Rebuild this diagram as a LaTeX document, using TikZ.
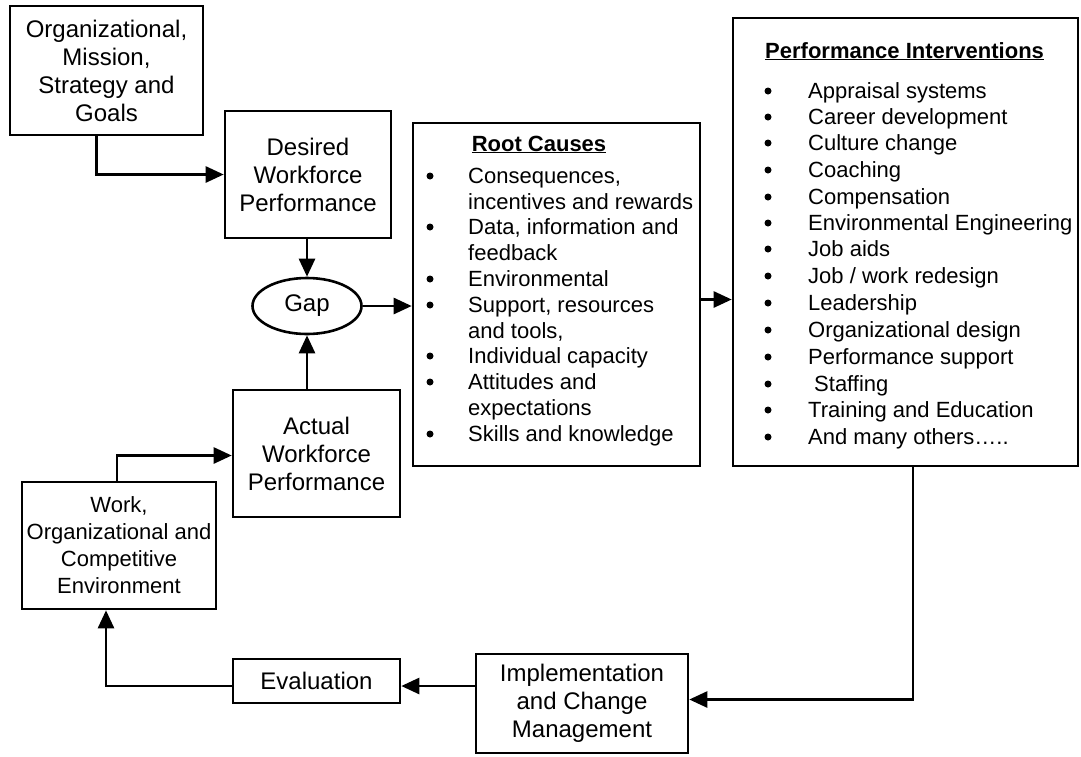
\documentclass[tikz,border=0pt]{standalone}
\usepackage{fontspec}
\setmainfont{Liberation Sans}
\usetikzlibrary{arrows.meta,shapes.geometric}
\begin{document}
\begin{tikzpicture}[x=1pt,y=-1pt,
  box/.style={draw,line width=2.6pt,rectangle,inner sep=0pt,align=center,
    font=\fontsize{24}{28}\selectfont},
  arr/.style={line width=2.6pt,-{Triangle[length=18pt,width=16pt]}},
  item/.style={anchor=base west,inner sep=0pt,font=\fontsize{22}{26}\selectfont},
  bul/.style={circle,fill=black,inner sep=0pt,minimum size=7pt},
  ttl/.style={inner sep=0pt,font=\fontsize{22}{26}\selectfont\bfseries}]
\useasboundingbox (0,0) rectangle (1081,756);

\node[box,minimum width=193pt,minimum height=129pt] (org) at (106.5,70.5)
  {Organizational,\\Mission,\\Strategy and\\Goals};
\node[box,minimum width=166pt,minimum height=127pt] (des) at (308,174.5)
  {Desired\\Workforce\\Performance};
\node[draw,ellipse,line width=2.6pt,minimum width=109pt,minimum height=56pt,inner sep=0pt,
  font=\fontsize{24}{28}\selectfont] (gap) at (307,306) {Gap};
\node[box,minimum width=287pt,minimum height=343pt] (root) at (556.5,294.5) {};
\node[box,minimum width=345pt,minimum height=448pt] (pi) at (905.5,242) {};
\node[box,minimum width=167pt,minimum height=127pt] (act) at (316.5,453.5)
  {Actual\\Workforce\\Performance};
\node[box,minimum width=194pt,minimum height=127pt,font=\fontsize{22}{27}\selectfont] (work) at (119,545.5)
  {Work,\\Organizational and\\Competitive\\Environment};
\node[box,minimum width=167pt,minimum height=44pt] (eval) at (316.5,681) {Evaluation};
\node[box,minimum width=212pt,minimum height=99pt] (impl) at (582,703.5)
  {Implementation\\and Change\\Management};

% Root causes list
\node[ttl,anchor=base] (rct) at (539,151) {\underline{Root Causes}};
\foreach \y/\b/\t [count=\i] in {
  175/1/{Consequences,},
  201/0/{incentives and rewards},
  226/1/{Data, information and},
  252/0/{feedback},
  278/1/{Environmental},
  304/1/{Support, resources},
  330/0/{and tools,},
  355/1/{Individual capacity},
  381/1/{Attitudes and},
  407/0/{expectations},
  433/1/{Skills and knowledge}} {
  \node[item] (rc\i) at (468,\y+8) {\t};
  \ifnum\b=1 \node[bul] (rcb\i) at (430,\y+1) {}; \fi
}

% Performance interventions list
\node[ttl,anchor=base west] (pit) at (765,58) {\underline{Performance Interventions}};
\foreach \y/\t [count=\i] in {
  90/{Appraisal systems},
  116/{Career development},
  142/{Culture change},
  169/{Coaching},
  196/{Compensation},
  222/{Environmental Engineering},
  248/{Job aids},
  275/{Job / work redesign},
  302/{Leadership},
  329/{Organizational design},
  356/{Performance support},
  383/{\hspace{6pt}Staffing},
  409/{Training and Education},
  436/{And many others…..}} {
  \node[item] (pi\i) at (808,\y+8) {\t};
  \node[bul] (pib\i) at (768,\y+1) {};
}

% connectors
\draw[arr] ([xshift=-10pt]org.south) |- (des.west);
\draw[arr] (gap.north |- des.south) -- (gap.north);
\draw[arr] (gap.south |- act.north) -- (gap.south);
\draw[arr] (gap.east) -- (gap.east -| root.west);
\draw[arr] ([yshift=-5pt]root.east) -- ([yshift=-5pt]root.east -| pi.west);
\draw[arr] ([xshift=-2pt]work.north) |- ([yshift=-2pt]act.west);
\draw[arr] ([xshift=7.5pt]pi.south) |- ([yshift=4pt]impl.east);
\draw[arr] ([yshift=-5pt]impl.west |- eval.east) -- ([yshift=-5pt]eval.east);
\draw[arr] ([yshift=-5pt]eval.west) -| ([xshift=-13pt]work.south);
\end{tikzpicture}
\end{document}
